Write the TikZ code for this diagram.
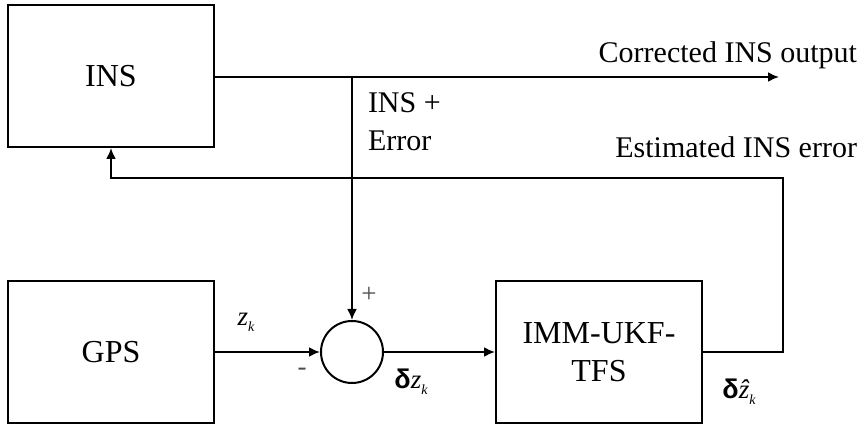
\documentclass[tikz,border=0pt]{standalone}
\usepackage{fontspec}
\setmainfont{Liberation Serif}
\newfontfamily\deltafont{Liberation Sans}
\usetikzlibrary{arrows.meta}

\begin{document}
\begin{tikzpicture}[x=0.5pt,y=-0.5pt,line width=1pt,
  blockbox/.style={draw,rectangle,minimum width=103pt,minimum height=71pt,
    align=center,font=\fontsize{16}{19}\selectfont},
  sumnode/.style={draw,circle,minimum size=31pt,inner sep=0pt},
  sig/.style={-{Latex[length=5.5pt,width=5pt]}},
  lbl/.style={font=\fontsize{15}{19}\selectfont,inner sep=0pt},
  sub/.style={font=\fontsize{13.5}{15}\selectfont,inner sep=0pt}]
\useasboundingbox (0,0) rectangle (863,427);

% blocks
\node [blockbox] (ins) at (111,76) {INS};
\node [blockbox] (gps) at (111,352) {GPS};
\node [blockbox] (imm) at (599,352) {IMM-UKF-\\TFS};
\node [sumnode] (sum) at (352,352) {};

\coordinate (out) at (779,77);
\coordinate (tap) at (352,77);
\coordinate (fb) at (783,178);

% signal paths
\draw [sig] (ins.east |- out) -- (out);
\draw [sig] (tap) -- (sum.north);
\draw [sig] (gps) -- (sum);
\draw [sig] (sum) -- (imm);
\draw [sig] (imm.east) -| (fb) -| (ins.south);

% labels
\node [lbl,anchor=base east] (corr) at (858,63) {Corrected INS output};
\node [lbl,anchor=base east] (esti) at (858,158) {Estimated INS error};
\node [lbl,anchor=north west,align=left] (err) at (367,92) {INS +\\Error};
\node [sub] (zk) at (246,322) {\itshape z\raisebox{-0.5ex}{\scriptsize k}};
\node [sub,text=black!70] (minus) at (302,372) {-};
\node [sub,text=black!70] (plus) at (369,295) {+};
\node [sub] (dz) at (411,382) {{\deltafont\bfseries δ}\itshape z\raisebox{-0.5ex}{\scriptsize k}};
\node [sub] (dzh) at (739,392) {{\deltafont\bfseries δ}\itshape ẑ\raisebox{-0.5ex}{\scriptsize k}};
\end{tikzpicture}
\end{document}
